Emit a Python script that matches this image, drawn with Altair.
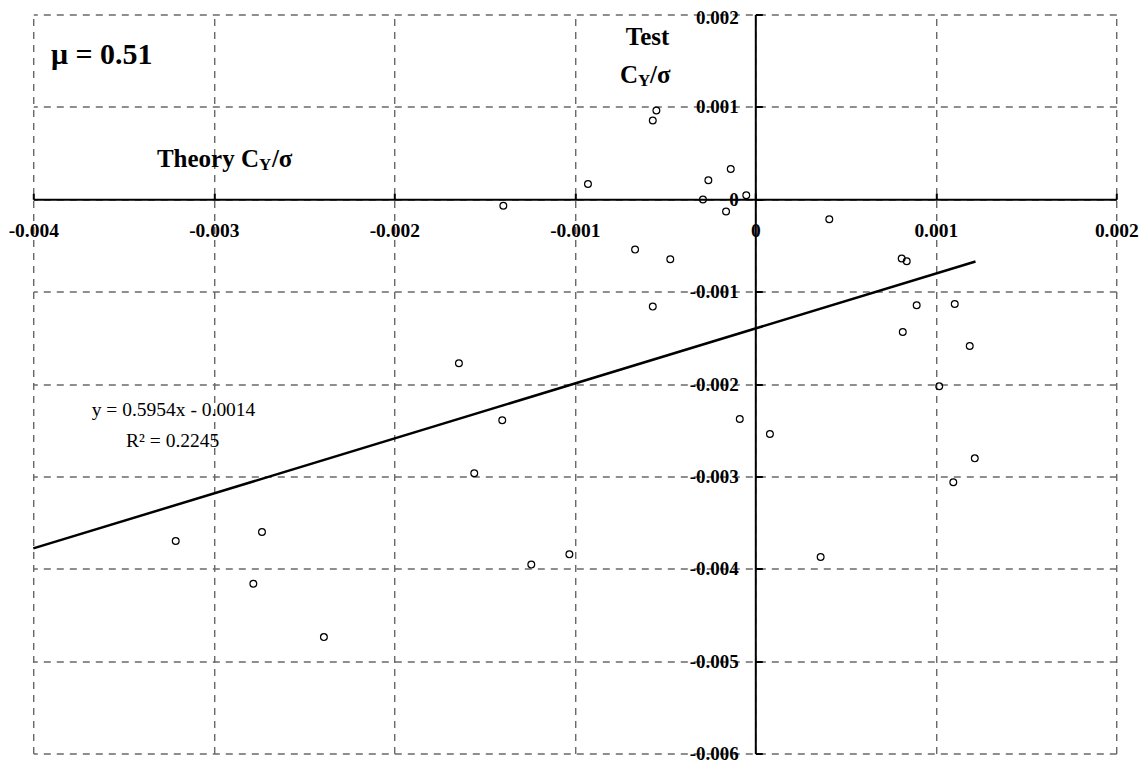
import altair as alt
import pandas as pd

# ---- data ----
theory_cy = [-0.001396, -0.000927, -0.000568, -0.000548, -0.000290, -0.000260,
             -0.000136, -0.000162, -0.000050, -0.000666, -0.000471, 0.000410,
             -0.000568, -0.001642, -0.001402, -0.001557, -0.000086, 0.000081,
             0.000811, 0.000839, 0.000894, 0.001105, 0.000817, 0.001188,
             0.001019, 0.001216, 0.001097, -0.003211, -0.002733, -0.002781,
             -0.002390, -0.001241, -0.001030, 0.000362]
test_cy = [-0.000070, 0.000166, 0.000852, 0.000960, -0.000003, 0.000206,
           0.000328, -0.000133, 0.000043, -0.000545, -0.000650, -0.000217,
           -0.001162, -0.001776, -0.002393, -0.002967, -0.002379, -0.002541,
           -0.000642, -0.000671, -0.001148, -0.001134, -0.001437, -0.001589,
           -0.002025, -0.002805, -0.003064, -0.003700, -0.003603, -0.004163,
           -0.004740, -0.003955, -0.003844, -0.003873]

trend_x = [-0.004, 0.00122]
trend_y = [-0.00378, -0.000674]

x_ticks = [-0.004, -0.003, -0.002, -0.001, 0.0, 0.001, 0.002]
x_tick_labels = ["-0.004", "-0.003", "-0.002", "-0.001", "0", "0.001", "0.002"]
y_ticks = [-0.006, -0.005, -0.004, -0.003, -0.002, -0.001, 0.0, 0.001, 0.002]
y_tick_labels = ["-0.006", "-0.005", "-0.004", "-0.003", "-0.002", "-0.001", "0", "0.001", "0.002"]

X_DOMAIN = [-0.004, 0.002]
Y_DOMAIN = [-0.006, 0.002]
W, H = 1083, 739
FONT = "Liberation Serif"

# axes cross at the origin
x_axis_offset = -H * (Y_DOMAIN[1] - 0.0) / (Y_DOMAIN[1] - Y_DOMAIN[0])
y_axis_offset = -W * (X_DOMAIN[1] - 0.0) / (X_DOMAIN[1] - X_DOMAIN[0])


def label_expr(labels, lo):
    arr = "[" + ",".join("'" + s + "'" for s in labels) + "]"
    return arr + "[round(datum.value*1000)+(" + str(-round(lo * 1000)) + ")]"


x_axis = alt.Axis(
    orient="top", offset=x_axis_offset, values=x_ticks, title=None,
    labelExpr=label_expr(x_tick_labels, X_DOMAIN[0]),
    domainColor="black", domainWidth=2,
    ticks=True, tickColor="black", tickWidth=2, tickSize=6,
    labelFont=FONT, labelFontSize=19.5, labelFontWeight="bold", labelColor="black",
    labelBaseline="top", labelAlign="center", labelPadding=-28.5,
    labelFlush=False, labelOverlap=False,
    grid=True, gridColor="#2a2a2a", gridDash=[7, 6], gridWidth=1,
)
y_axis = alt.Axis(
    orient="right", offset=y_axis_offset, values=y_ticks, title=None,
    labelExpr=label_expr(y_tick_labels, Y_DOMAIN[0]),
    domainColor="black", domainWidth=2,
    ticks=True, tickColor="black", tickWidth=2, tickSize=7,
    labelFont=FONT, labelFontSize=19, labelFontWeight="bold", labelColor="black",
    labelBaseline="middle", labelAlign="right", labelPadding=-24,
    labelOffset={"condition": {"test": "datum.value > 0.0015", "value": 3}, "value": 0},
    labelFlush=False, labelOverlap=False,
    grid=True, gridColor="#6a6a6a", gridDash=[7, 6], gridWidth=1.3,
)

xs = alt.Scale(domain=X_DOMAIN, nice=False, zero=False)
ys = alt.Scale(domain=Y_DOMAIN, nice=False, zero=False)


def X():
    return alt.X("x:Q", scale=xs, axis=x_axis)


def Y():
    return alt.Y("y:Q", scale=ys, axis=y_axis)


pts = pd.DataFrame({"x": theory_cy, "y": test_cy})
trend = pd.DataFrame({"x": trend_x, "y": trend_y})

points = alt.Chart(pts).mark_point(
    shape="circle", filled=False, color="black", size=46, strokeWidth=1.2, opacity=1
).encode(x=X(), y=Y())

line = alt.Chart(trend).mark_line(color="black", strokeWidth=2.5).encode(x=X(), y=Y())


def txt(x, y, s, size, weight="bold", align="left", dx=0, dy=0):
    d = pd.DataFrame({"x": [x], "y": [y], "t": [s]})
    return alt.Chart(d).mark_text(
        font=FONT, fontSize=size, fontWeight=weight, color="black",
        align=align, baseline="alphabetic", dx=dx, dy=dy
    ).encode(x=X(), y=Y(), text="t:N")


texts = [
    txt(-0.003902, 0.001462, "μ = 0.51", 30),
    txt(-0.00275, 0.000347, "Theory C", 25, align="right"),
    txt(-0.00275, 0.000347, "Y", 17, align="left", dy=3),
    txt(-0.00275, 0.000347, "/σ", 25, align="left", dx=13),
    txt(-0.000597, 0.001668, "Test", 25, align="center"),
    txt(-0.00065, 0.001256, "C", 25, align="right"),
    txt(-0.00065, 0.001256, "Y", 17, align="left", dy=3),
    txt(-0.00065, 0.001256, "/σ", 25, align="left", dx=12),
    txt(-0.003223, -0.00235, "y = 0.5954x - 0.0014", 19.5, weight="normal", align="center"),
    txt(-0.003228, -0.002685, "R² = 0.2245", 19.5, weight="normal", align="center"),
]

chart = alt.layer(points, line, *texts).properties(
    width=W, height=H,
    autosize=alt.AutoSizeParams(type="none"),
    padding={"left": 25.3, "top": 6.5, "right": 23, "bottom": 9},
    background="white",
).configure_view(strokeWidth=0)

chart.save("out.html", embed_options={"renderer": "svg", "actions": False})
